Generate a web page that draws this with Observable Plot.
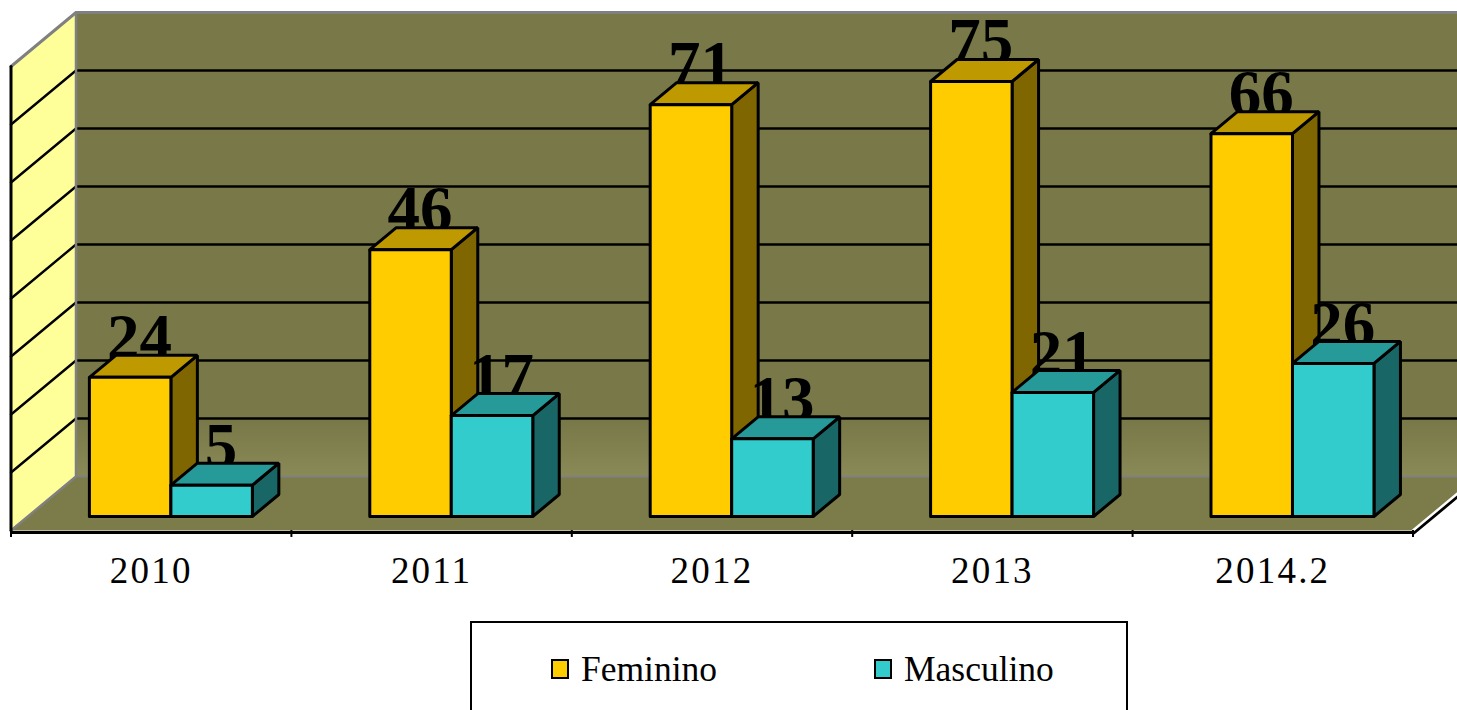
<!DOCTYPE html>
<html>
<head>
<meta charset="utf-8">
<script src="https://cdn.jsdelivr.net/npm/d3@7"></script>
<script src="https://cdn.jsdelivr.net/npm/@observablehq/plot@0.6"></script>
<style>
html,body{margin:0;padding:0;background:#fff;width:1457px;height:710px;overflow:hidden;}
#chart svg{display:block;max-width:none;}
#legend{box-sizing:border-box;position:absolute;left:470px;top:620.5px;width:657.5px;height:130px;border:2.8px solid #000;
  font-family:"Liberation Serif",serif;font-size:35.5px;color:#000;}
#legend .item{position:absolute;top:29.5px;display:flex;align-items:center;line-height:34px;}
#legend .sw{box-sizing:border-box;width:18px;height:20px;border:2.8px solid #000;margin-right:12px;}
.cat-label text{letter-spacing:2.2px;}
</style>
</head>
<body>
<div id="chart"></div>
<div id="legend"></div>
<script>
const categories = ["2010", "2011", "2012", "2013", "2014.2"];
const feminino = [24, 46, 71, 75, 66];
const masculino = [5, 17, 13, 21, 26];
const gridValues = [10, 20, 30, 40, 50, 60, 70];
const wallTop = 80;
const seriesNames = ["Feminino", "Masculino"];
const femColors = {front: "#FFCC00", top: "#BF9900", side: "#806600"};
const masColors = {front: "#33CCCC", top: "#269999", side: "#196666"};

const W = 1457, H = 615;
const catPx = 280.4, valPx = 5.8, x0Px = 10.5, y0Px = 530;
// oblique projection: one unit of depth = wall distance behind the axis plane
const DX = 65 / catPx, DY = 54 / valPx;
const P = (c, v, d = 0) => ({x: c + d * DX, y: v + d * DY});
const xMax = (W - x0Px) / catPx;

const barDepth0 = 14 / 54, barDepth = 22 / 54, barStart = 0.2195, barW = 0.2906;

function boxFaces(vals, offset, prefix, lift) {
  const fronts = [], tops = [], sides = [], labels = [];
  vals.forEach((val, i) => {
    const v = val + lift;
    const l = i + barStart + offset * barW, r = l + barW;
    const a = barDepth0, b = barDepth0 + barDepth;
    const poly = (arr, id, pts) => pts.concat([pts[0]]).forEach(p => arr.push({...p, id: prefix + id + i}));
    poly(sides, "s", [P(r, 0, a), P(r, 0, b), P(r, v, b), P(r, v, a)]);
    poly(tops, "t", [P(l, v, a), P(r, v, a), P(r, v, b), P(l, v, b)]);
    poly(fronts, "f", [P(l, 0, a), P(r, 0, a), P(r, v, a), P(l, v, a)]);
    labels.push({...P((l + r) / 2, v, b), text: String(val)});
  });
  return {fronts, tops, sides, labels};
}

const lineOpts = {x: "x", y: "y", z: "id"};
const faceStyle = {stroke: "#000", strokeWidth: 3, strokeLinejoin: "miter"};
const barMarks = (b, colors) => [
  Plot.line(b.sides, {...lineOpts, ...faceStyle, fill: colors.side}),
  Plot.line(b.tops, {...lineOpts, ...faceStyle, fill: colors.top}),
  Plot.line(b.fronts, {...lineOpts, ...faceStyle, fill: colors.front})
];
const labelMark = (b, dy) => Plot.text(b.labels, {
  x: "x", y: "y", text: "text", dx: -17, dy, lineAnchor: "bottom",
  fontFamily: "Liberation Serif", fontWeight: "bold", fontSize: 65, fill: "#000"
});

const fem = boxFaces(feminino, 0, "fem", 0);
const mas = boxFaces(masculino, 1, "mas", 0.4);

const closed = (id, pts) => pts.concat([pts[0]]).map(p => ({...p, id}));
const edgeD = 0.69;
const back = closed("back", [P(0, 0, 1), {x: xMax, y: DY}, {x: xMax, y: wallTop + DY}, P(0, wallTop, 1)]);
const leftWall = closed("left", [P(0, 0), P(0, 0, 1), P(0, wallTop, 1), P(0, wallTop)]);
const floor = closed("floor", [P(0, 0), P(5, 0), P(5, 0, edgeD), {x: xMax, y: DY}, P(0, 0, 1)]);
const frontFloorEdge = [P(5, 0), P(5, 0, edgeD)];

const plot = Plot.plot({
  width: W, height: H,
  marginTop: 0, marginRight: 0, marginBottom: 0, marginLeft: 0,
  x: {domain: [-x0Px / catPx, xMax], range: [0, W], axis: null},
  y: {domain: [-(H - y0Px) / valPx, y0Px / valPx], range: [H, 0], axis: null},
  style: {background: "#fff", overflow: "hidden"},
  marks: [
    // back wall, floor and left wall
    Plot.line(back, {...lineOpts, fill: "url(#wallGrad)"}),
    Plot.line(floor, {...lineOpts, fill: "#7C7C4A"}),
    Plot.line(leftWall, {...lineOpts, fill: "#FFFF99"}),
    // gridlines
    Plot.ruleY(gridValues, {y: d => d + DY, x1: DX, x2: xMax, stroke: "#000", strokeWidth: 2.4}),
    ...gridValues.map(v => Plot.line([P(0, v), P(0, v, 1)], {x: "x", y: "y", stroke: "#000", strokeWidth: 2.4})),
    // wall edges
    Plot.line([P(0, wallTop), P(0, wallTop, 1), {x: xMax, y: wallTop + DY}], {x: "x", y: "y", stroke: "#808080", strokeWidth: 3, strokeLinejoin: "miter"}),
    Plot.line([P(0, 0), P(0, 0, 1), P(0, wallTop, 1)], {x: "x", y: "y", stroke: "#808080", strokeWidth: 2.5, strokeLinejoin: "miter"}),
    Plot.line([P(0, 0, 1), {x: xMax, y: DY}], {x: "x", y: "y", stroke: "#808080", strokeWidth: 2}),
    // axis plane
    Plot.line([P(0, 0), P(0, wallTop)], {x: "x", y: "y", stroke: "#000", strokeWidth: 3}),
    Plot.line(frontFloorEdge, {x: "x", y: "y", stroke: "#fff", strokeWidth: 2.5}),
    Plot.line(frontFloorEdge, {x: "x", y: "y", dy: 2.5, dx: 1, stroke: "#000", strokeWidth: 2.8}),
    Plot.ruleY([0], {x1: 0, x2: 5, dy: 2, stroke: "#000", strokeWidth: 3.2}),
    Plot.ruleX(d3.range(categories.length + 1), {y1: 0, y2: -1.2, stroke: "#000", strokeWidth: 2}),
    Plot.text(categories, {
      x: (d, i) => i + 0.5, y: 0, dy: 52, text: d => d, lineAnchor: "bottom",
      fontFamily: "Liberation Serif", fontSize: 37, fill: "#000", className: "cat-label"
    }),
    // bars and their value labels
    labelMark(fem, 3.5),
    ...barMarks(fem, femColors),
    labelMark(mas, 4.5),
    ...barMarks(mas, masColors)
  ]
});
const defs = d3.select(plot).append("defs");
const grad = defs.append("linearGradient").attr("id", "wallGrad").attr("x1", 0).attr("x2", 0).attr("y1", 0).attr("y2", 1);
[[0, "#787848"], [0.88, "#787848"], [1, "#8A8A58"]].forEach(([o, c]) =>
  grad.append("stop").attr("offset", o).attr("stop-color", c));
document.getElementById("chart").append(plot);

const legend = d3.select("#legend");
[[femColors.front, 79], [masColors.front, 402]].forEach(([c, left], i) => {
  const it = legend.append("div").attr("class", "item").style("left", left + "px");
  it.append("div").attr("class", "sw").style("background", c);
  it.append("span").text(seriesNames[i]);
});
</script>
</body>
</html>
